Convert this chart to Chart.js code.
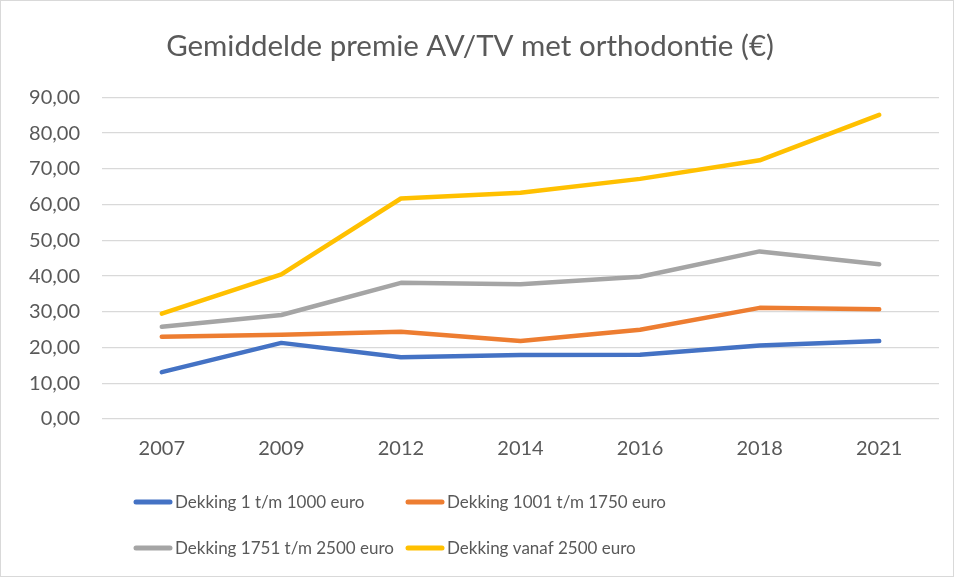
<!DOCTYPE html>
<html>
<head>
<meta charset="utf-8">
<script src="https://cdn.jsdelivr.net/npm/chart.js@4/dist/chart.umd.min.js"></script>
<style>
  html, body { margin: 0; padding: 0; background: #fff; }
  #wrap { width: 954px; height: 577px; box-sizing: border-box; border: 1px solid #d9d9d9; }
  canvas { display: block; }
</style>
</head>
<body>
<div id="wrap"><canvas id="myChart" width="952" height="575"></canvas></div>
<script>
// data
const years = ['2007', '2009', '2012', '2014', '2016', '2018', '2021'];
const dekking1000 = [13.1, 21.3, 17.3, 17.9, 18.0, 20.6, 21.8];
const dekking1750 = [23.0, 23.6, 24.4, 21.8, 25.0, 31.1, 30.7];
const dekking2500 = [25.8, 29.1, 38.1, 37.7, 39.8, 46.9, 43.3];
const dekkingVanaf = [29.5, 40.5, 61.7, 63.3, 67.2, 72.4, 85.1];
const seriesLabels = [
    'Dekking 1 t/m 1000 euro',
    'Dekking 1001 t/m 1750 euro',
    'Dekking 1751 t/m 2500 euro',
    'Dekking vanaf 2500 euro'
];
const yMin = 0;
const yMax = 90;
const yStep = 10;

const textColor = '#595959';
const fontFamily = 'Lato, "Open Sans", sans-serif';

// excel style legend: two columns, two rows
const gridLegend = {
    id: 'gridLegend',
    afterDraw(chart) {
        const ctx = chart.ctx;
        const cols = [133, 405];
        const rows = [501, 547];
        ctx.save();
        ctx.font = '17px ' + fontFamily;
        ctx.textBaseline = 'middle';
        ctx.fillStyle = textColor;
        chart.data.datasets.forEach(function (ds, i) {
            const x = cols[i % 2];
            const y = rows[Math.floor(i / 2)];
            ctx.strokeStyle = ds.borderColor;
            ctx.lineWidth = 5;
            ctx.lineCap = 'round';
            ctx.beginPath();
            ctx.moveTo(x + 2, y);
            ctx.lineTo(x + 36, y);
            ctx.stroke();
            ctx.fillText(ds.label, x + 41, y + 1);
        });
        ctx.restore();
    }
};

const ctx = document.getElementById('myChart').getContext('2d');
const lineChart = new Chart(ctx, {
    type: 'line',
    data: {
        labels: years,
        datasets: [
            { label: seriesLabels[0], data: dekking1000, borderColor: '#4472C4' },
            { label: seriesLabels[1], data: dekking1750, borderColor: '#ED7D31' },
            { label: seriesLabels[2], data: dekking2500, borderColor: '#A5A5A5' },
            { label: seriesLabels[3], data: dekkingVanaf, borderColor: '#FFC000' }
        ]
    },
    options: {
        responsive: false,
        animation: false,
        datasets: {
            line: {
                borderWidth: 4.5,
                borderCapStyle: 'round',
                borderJoinStyle: 'round',
                pointRadius: 0,
                tension: 0
            }
        },
        layout: {
            padding: { left: 0, right: 14, top: 0, bottom: 105 }
        },
        plugins: {
            legend: { display: false },
            tooltip: { enabled: false },
            title: {
                display: true,
                text: 'Gemiddelde premie AV/TV met orthodontie (€)',
                color: textColor,
                font: { family: fontFamily, size: 29.5, weight: 'normal' },
                padding: { top: 28, bottom: 33 }
            }
        },
        scales: {
            x: {
                offset: true,
                grid: { display: false },
                border: { display: false },
                ticks: {
                    color: textColor,
                    font: { family: fontFamily, size: 20 },
                    padding: 10
                }
            },
            y: {
                min: yMin,
                max: yMax,
                afterFit: function (scale) { scale.width = 101; },
                grid: { color: '#D9D9D9', lineWidth: 1.3, drawTicks: false },
                border: { display: false },
                ticks: {
                    stepSize: yStep,
                    color: textColor,
                    font: { family: fontFamily, size: 20 },
                    padding: 22,
                    callback: function (v) { return v.toFixed(2).replace('.', ','); }
                }
            }
        }
    },
    plugins: [gridLegend]
});
</script>
</body>
</html>
